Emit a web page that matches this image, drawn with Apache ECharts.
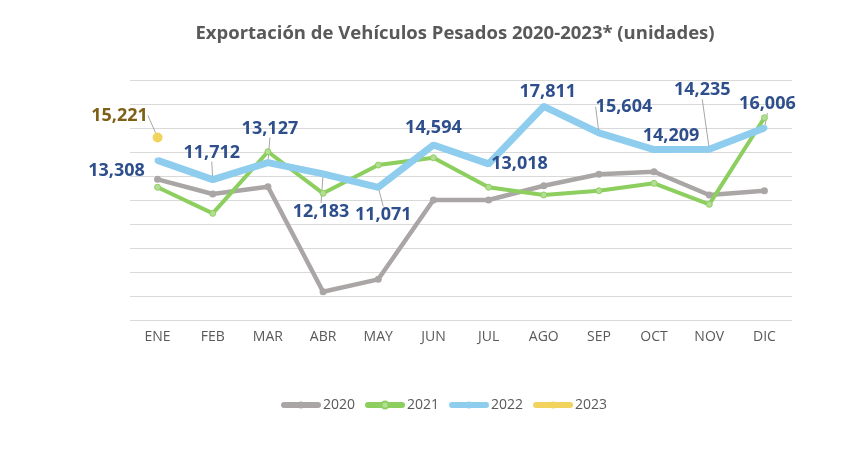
<!DOCTYPE html>
<html>
<head>
<meta charset="utf-8">
<script src="https://cdn.jsdelivr.net/npm/echarts@6/dist/echarts.min.js"></script>
<style>html,body{margin:0;padding:0;background:#fff;}#c{width:859px;height:469px;}</style>
</head>
<body>
<div id="c"></div>
<script>
var months = ['ENE','FEB','MAR','ABR','MAY','JUN','JUL','AGO','SEP','OCT','NOV','DIC'];
var v2020 = [11730,10510,11120,2380,3410,10010,10010,11200,12150,12360,10430,10780];
var v2021 = [11070,8900,14030,10570,12920,13530,11070,10430,10780,11400,9650,16860];
var v2022 = [13308,11712,13127,12183,11071,14594,13018,17811,15604,14209,14235,16006];
var v2023 = [15221];

// label offsets (dx, dy from point) and whether a leader line is drawn
var off2022 = [[-41,10,0],[-1,-27,1],[2,-34,1],[-2,38,1],[5,28,1],[0,-17,0],[31,0,0],[4,-14,0],[25,-26,1],[17,-14,0],[-7,-59,1],[3,-24,1]];
var off2023 = [[-38,-22,1]];

var chart = echarts.init(document.getElementById('c'));
var F = '"Open Sans", sans-serif';
function fmt(v){ return v.toLocaleString('en-US'); }

function mkData(vals, offs){
  return vals.map(function(v,i){
    return {value: v, labelLine: {show: !!offs[i][2]}};
  });
}

chart.setOption({
  animation: false,
  title: {
    text: 'Exportación de Vehículos Pesados 2020-2023* (unidades)',
    left: 450, top: 19, textAlign: 'center',
    textStyle: {fontFamily: F, fontWeight: 'bold', fontSize: 18.5, color: '#595959'}
  },
  legend: {
    bottom: 52, left: 276,
    itemWidth: 34, itemHeight: 9, itemGap: 10,
    textStyle: {fontFamily: F, fontSize: 14, color: '#595959'},
    lineStyle: {width: 6, cap: 'round'},
    data: ['2020','2021','2022','2023']
  },
  grid: {left: 130, right: 67, top: 80, bottom: 148.7},
  xAxis: {
    type: 'category', data: months, boundaryGap: true,
    axisLine: {show: false}, axisTick: {show: false},
    axisLabel: {fontFamily: F, fontSize: 14, color: '#595959', margin: 10}
  },
  yAxis: {
    type: 'value', min: 0, max: 20000, interval: 2000,
    axisLabel: {show: false}, axisLine: {show: false}, axisTick: {show: false},
    splitLine: {lineStyle: {color: '#D9D9D9', width: 1}}
  },
  series: [
    {
      name: '2020', type: 'line', data: v2020,
      symbol: 'circle', symbolSize: 7,
      lineStyle: {color: '#AAA6A6', width: 4.5},
      itemStyle: {color: '#AAA6A6'}
    },
    {
      name: '2021', type: 'line', data: v2021,
      symbol: 'circle', symbolSize: 6,
      lineStyle: {color: '#8CCF5F', width: 4},
      itemStyle: {color: '#B3DE93', borderColor: '#8CCF5F', borderWidth: 1}
    },
    {
      name: '2022', type: 'line', data: mkData(v2022, off2022),
      symbol: 'circle', symbolSize: 6,
      lineStyle: {color: '#8ECDEE', width: 7},
      itemStyle: {color: '#8ECDEE'},
      label: {
        show: true, position: 'inside',
        formatter: function(p){ return fmt(p.value); },
        fontFamily: F, fontWeight: 'bold', fontSize: 18, color: '#2E4F8C'
      },
      labelLine: {show: true, lineStyle: {color: '#A6A6A6', width: 1}},
      labelLayout: function(p){ var o = off2022[p.dataIndex]; return {dx: o[0], dy: o[1]}; }
    },
    {
      name: '2023', type: 'line', data: mkData(v2023, off2023),
      symbol: 'circle', symbolSize: 10,
      lineStyle: {color: '#F1D35D', width: 4},
      itemStyle: {color: '#F1D35D'},
      label: {
        show: true, position: 'inside',
        formatter: function(p){ return fmt(p.value); },
        fontFamily: F, fontWeight: 'bold', fontSize: 18, color: '#7E6117'
      },
      labelLine: {show: true, lineStyle: {color: '#A6A6A6', width: 1}},
      labelLayout: function(p){ var o = off2023[p.dataIndex]; return {dx: o[0], dy: o[1]}; }
    }
  ]
});
</script>
</body>
</html>
